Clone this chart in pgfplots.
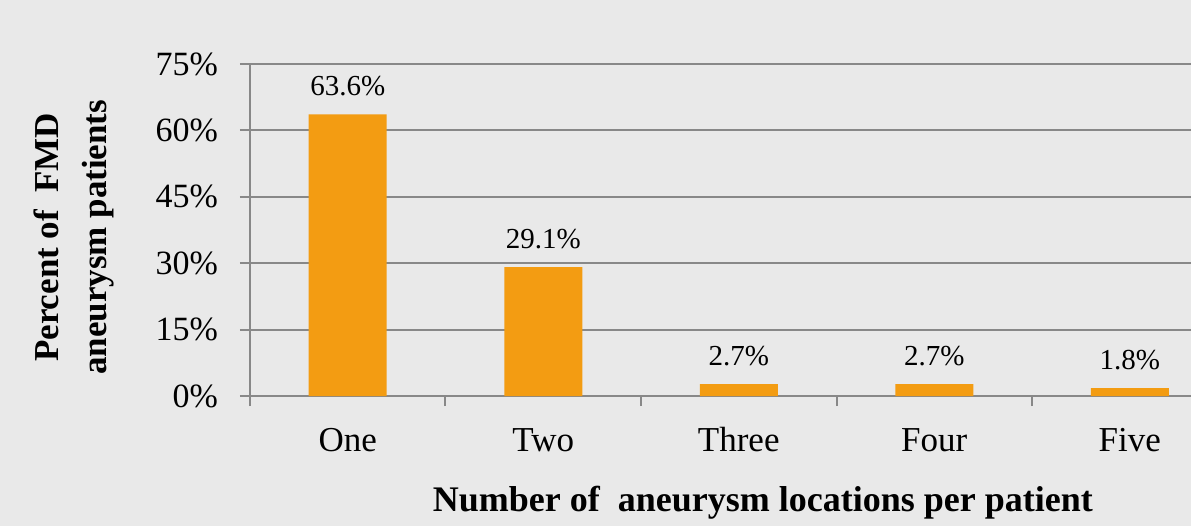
\documentclass[border=0pt]{standalone}
\usepackage{fontspec}
\setmainfont{Liberation Serif}
\usepackage{pgfplots}
\pgfplotsset{compat=1.18}
\definecolor{bgc}{RGB}{233,233,233}
\definecolor{barc}{RGB}{243,156,18}
\definecolor{gridc}{RGB}{136,136,136}

\begin{document}
\begin{tikzpicture}
% background, also fixes the page size
\path[fill=bgc, use as bounding box] (-125bp,-65bp) rectangle (470.5bp,198bp);
\begin{axis}[
  at={(0,0)}, anchor=south west,
  scale only axis, width=470.5bp, height=166bp,
  xmin=-0.5, xmax=4.3133, ymin=0, ymax=75,
  axis x line*=bottom, axis y line*=left,
  axis line style={-, gridc, line width=1bp},
  ytick={0,15,...,75}, ymajorgrids,
  major grid style={gridc, line width=1bp},
  /pgf/number format/assume math mode=true,
  yticklabel={\pgfmathprintnumber{\tick}\%},
  xtick={0,...,4}, xticklabels={One,Two,Three,Four,Five},
  minor xtick={-0.5,0.5,1.5,2.5,3.5},
  tick align=outside, major tick length=5bp, minor tick length=5bp,
  tick style={gridc, line width=1bp},
  major x tick style={draw=none},
  yticklabel style={font=\fontsize{17bp}{20bp}\selectfont, xshift=-7.5bp},
  xticklabel style={font=\fontsize{17.5bp}{20bp}\selectfont, anchor=center, yshift=-17bp},
  ylabel={Percent of\ \ FMD\\aneurysm patients},
  ylabel style={align=center, font=\bfseries\fontsize{17.5bp}{24bp}\selectfont,
    at={(axis description cs:-0.187,0.478)}, anchor=center},
  xlabel={Number of\ \ aneurysm locations per patient},
  xlabel style={font=\bfseries\fontsize{18bp}{22bp}\selectfont,
    at={(axis description cs:0.545,-0.32)}, anchor=center},
  ybar, bar width=39bp,
  nodes near coords={\pgfmathprintnumber[fixed,precision=1,fixed zerofill]{\pgfplotspointmeta}\%},
  every node near coord/.append style={font=\fontsize{14.5bp}{17bp}\selectfont, anchor=center, yshift=14bp},
  clip=false,
]
\addplot[fill=barc, draw=none] coordinates {
  (0,63.6)
  (1,29.1)
  (2,2.7)
  (3,2.7)
  (4,1.8)
};
\end{axis}
\end{tikzpicture}
\end{document}
